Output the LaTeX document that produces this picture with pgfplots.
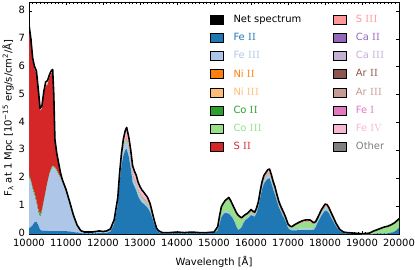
\documentclass[border=0pt]{standalone}
\usepackage{fontspec}
\setsansfont{DejaVu Sans}
\usepackage{pgfplots}
\usepackage{pgfplotstable}
\pgfplotsset{compat=1.18}
\definecolor{cFeII}{HTML}{1F77B4}
\definecolor{cFeIII}{HTML}{AEC7E8}
\definecolor{cNiII}{HTML}{FF7F0E}
\definecolor{cNiIII}{HTML}{FFBB78}
\definecolor{cCoII}{HTML}{2CA02C}
\definecolor{cCoIII}{HTML}{98DF8A}
\definecolor{cSII}{HTML}{D62728}
\definecolor{cSIII}{HTML}{FF9896}
\definecolor{cCaII}{HTML}{9467BD}
\definecolor{cCaIII}{HTML}{C5B0D5}
\definecolor{cArII}{HTML}{8C564B}
\definecolor{cArIII}{HTML}{C49C94}
\definecolor{cFeI}{HTML}{E377C2}
\definecolor{cFeIV}{HTML}{F7B6D2}
\definecolor{cOther}{HTML}{7F7F7F}
\pgfplotsset{patch/.style={legend image code/.code={\fill[##1] (0bp,-4.5bp) rectangle (13bp,4.5bp); \path (23bp,0bp);}}}
\newcommand{\fs}{\sffamily\fontsize{10}{12}\selectfont}
\newcommand{\rn}[1]{{\rmfamily\fontsize{10.5}{12}\selectfont #1}}
\pgfplotstableread{
x FeII FeIII CoII CoIII SII SIII FeIV Net
10000 .20 1.90 .05 .02 5.23 0 0 7.5
10050 .25 1.60 .06 .02 4.97 0 0 7.0
10100 .32 1.25 .07 .02 4.54 0 0 6.3
10150 .42 .95 .08 .02 4.43 0 0 6.0
10200 .44 .65 .09 .02 4.55 0 0 5.85
10250 .32 .45 .09 .02 4.22 0 0 5.2
10300 .15 .45 .08 .02 3.72 0 0 4.5
10350 .12 .65 .07 .02 3.64 0 0 4.6
10400 .12 1.00 .05 .02 3.81 0 0 5.1
10450 .11 1.35 .04 .02 3.78 .05 0 5.45
10500 .11 1.70 .03 .02 3.49 .05 0 5.5
10550 .10 2.00 .03 .02 3.45 .02 0 5.7
10600 .10 2.20 .03 .02 3.40 .02 0 5.85
10640 .10 2.30 .03 .02 3.35 .02 0 5.9
10670 .10 2.28 .03 .02 2.47 .02 0 5.0
10700 .10 2.25 .03 .02 .95 .02 0 3.4
10750 .10 2.15 .03 .02 .55 .02 0 2.9
10800 .10 2.00 .03 .02 .35 .02 0 2.55
10850 .10 1.90 .03 .02 .10 .02 0 2.2
10900 .10 1.75 .02 .02 0 .03 0 1.95
11000 .10 1.42 .02 .02 0 .03 0 1.6
11100 .09 .98 .02 .02 0 .03 0 1.15
11200 .07 .53 .01 .01 0 .03 0 .68
11300 .05 .22 .01 .01 0 .02 0 .32
11400 .03 .07 0 0 0 .01 0 .12
11500 .02 .03 0 0 0 .01 0 .07
11700 .02 .03 0 0 0 .01 0 .07
11900 .03 .04 0 0 0 .02 0 .11
12000 .03 .03 0 0 0 .02 0 .09
12100 .04 .03 0 0 0 .02 0 .11
12200 .09 .03 0 .01 0 .03 0 .18
12300 .35 .05 0 .02 0 .04 .02 .5
12400 1.05 .10 0 .03 0 .04 .05 1.3
12450 1.85 .15 0 .03 0 .04 .07 2.2
12500 2.45 .20 0 .04 0 .05 .10 2.9
12550 2.80 .25 0 .05 0 .05 .15 3.4
12600 3.00 .28 0 .06 0 .08 .18 3.7
12640 3.05 .30 0 .07 0 .10 .20 3.82
12700 2.75 .25 0 .06 0 .08 .20 3.45
12750 2.35 .22 0 .06 0 .07 .20 3.0
12800 1.85 .20 0 .06 0 .07 .18 2.45
12850 1.70 .18 0 .06 0 .06 .18 2.25
12900 1.55 .17 0 .06 0 .06 .18 2.1
12950 1.35 .15 0 .06 0 .05 .16 1.85
13000 1.22 .14 0 .06 0 .05 .15 1.7
13050 1.13 .13 0 .06 0 .05 .14 1.58
13100 1.08 .12 0 .05 0 .05 .12 1.5
13200 .95 .10 0 .05 0 .04 .10 1.32
13270 .80 .08 0 .04 0 .04 .08 1.1
13300 .70 .07 0 .04 0 .03 .07 .95
13360 .45 .05 0 .03 0 .03 .04 .62
13400 .30 .04 0 .02 0 .02 .03 .42
13450 .13 .03 0 .01 0 .01 .02 .2
13500 .06 .02 0 0 0 .01 .01 .12
13600 .02 .01 0 0 0 .01 .01 .05
13800 .02 .01 0 0 0 .01 0 .05
14000 .03 .02 0 0 0 .01 0 .07
14200 .02 .01 0 0 0 .01 0 .05
14400 .03 .02 0 0 0 .01 0 .07
14600 .02 .01 0 0 0 .01 0 .05
14800 .02 .01 0 0 0 .01 0 .05
15000 .03 .01 0 .01 0 .01 0 .07
15100 .12 .02 0 .08 0 .02 0 .26
15150 .35 .04 0 .20 0 .03 .02 .65
15200 .60 .05 0 .28 0 .03 .02 .98
15250 .70 .06 0 .30 0 .03 .02 1.1
15300 .76 .06 0 .35 0 .03 .03 1.2
15400 .73 .06 0 .43 0 .04 .03 1.31
15450 .66 .06 0 .40 0 .04 .03 1.2
15500 .58 .05 0 .35 0 .03 .03 1.06
15550 .45 .05 0 .35 0 .03 .02 .92
15600 .28 .04 0 .38 0 .02 .02 .78
15650 .14 .03 0 .45 0 .02 .02 .68
15700 .18 .03 0 .35 0 .02 .02 .62
15750 .25 .04 0 .25 0 .02 .02 .58
15800 .40 .05 0 .15 0 .02 .02 .65
15850 .50 .05 0 .10 0 .03 .02 .7
15900 .55 .05 0 .08 0 .03 .02 .74
15950 .60 .05 0 .07 0 .03 .03 .8
16000 .68 .06 0 .06 0 .03 .04 .88
16050 .65 .05 0 .05 0 .03 .03 .82
16100 .62 .05 0 .04 0 .03 .03 .78
16150 .75 .06 0 .04 0 .03 .03 .93
16200 .97 .07 0 .04 0 .04 .04 1.16
16250 1.30 .08 0 .04 0 .05 .05 1.55
16300 1.60 .10 0 .04 0 .05 .06 1.88
16350 1.80 .10 0 .04 0 .06 .07 2.1
16400 1.90 .11 0 .04 0 .06 .07 2.2
16450 1.98 .12 0 .04 0 .06 .07 2.3
16500 2.00 .12 0 .04 0 .06 .07 2.33
16550 1.82 .11 0 .04 0 .06 .07 2.13
16600 1.60 .10 0 .04 0 .05 .06 1.88
16650 1.40 .09 0 .04 0 .05 .06 1.68
16700 1.18 .08 0 .04 0 .04 .05 1.42
16750 .97 .07 0 .03 0 .04 .05 1.18
16800 .82 .06 0 .03 0 .04 .04 1.01
16850 .67 .05 0 .03 0 .04 .04 .86
16900 .55 .05 0 .03 0 .03 .03 .72
16950 .40 .04 0 .03 0 .03 .03 .55
17000 .22 .04 0 .04 0 .02 .02 .36
17050 .15 .04 0 .05 0 .02 .02 .29
17100 .13 .04 0 .06 0 .02 .02 .26
17200 .13 .05 0 .12 0 .02 .02 .35
17300 .14 .05 0 .17 0 .02 .02 .42
17400 .14 .05 0 .22 0 .03 .03 .48
17500 .14 .05 0 .25 0 .03 .03 .51
17600 .14 .05 0 .23 0 .03 .03 .5
17700 .15 .05 0 .14 0 .03 .02 .4
17750 .25 .05 0 .08 0 .03 .02 .45
17800 .40 .06 0 .05 0 .03 .03 .58
17900 .65 .07 0 .04 0 .04 .04 .86
18000 .84 .08 0 .04 0 .04 .05 1.07
18050 .83 .08 0 .04 0 .04 .05 1.06
18100 .76 .07 0 .04 0 .04 .04 .96
18200 .50 .06 0 .03 0 .03 .03 .67
18300 .27 .04 0 .02 0 .02 .02 .38
18400 .10 .02 0 .01 0 .01 .01 .16
18500 .03 .01 0 .01 0 .01 .01 .07
18600 .02 .01 0 .01 0 .01 0 .05
18800 .01 .01 0 .01 0 0 0 .03
19000 0 0 0 .01 0 0 0 .01
19200 0 0 0 .03 0 0 0 .03
19300 0 0 0 .08 0 0 0 .1
19400 .01 .01 0 .12 0 0 0 .15
19500 .01 .01 0 .17 0 .01 0 .2
19600 .01 .01 0 .22 0 .01 0 .25
19700 .02 .01 0 .25 0 .01 0 .28
19800 .04 .01 0 .28 0 .01 0 .34
19900 .10 .01 0 .30 0 .01 0 .42
20000 .22 .02 0 .30 0 .01 0 .55
}\data
\begin{document}
\begin{tikzpicture}
\useasboundingbox (-29bp,-36bp) rectangle (386bp,234bp);
\begin{axis}[
  at={(0,0)}, anchor=south west, scale only axis,
  width=370bp, height=232bp,
  xmin=10000, xmax=20000, ymin=0, ymax=8.32,
  stack plots=y,
  xtick={10000,11000,...,20000}, minor x tick num=9,
  ytick={0,1,...,8},
  scaled x ticks=false,
  xticklabel style={/pgf/number format/set thousands separator={}, yshift=-2bp},
  yticklabel style={xshift=-0.5bp, yshift=1bp},
  /pgf/number format/assume math mode=true,
  tick label style={font=\fs},
  label style={font=\fs},
  tick align=inside, major tick length=3.5bp, minor tick length=2bp,
  tick style={black, line width=0.6bp},
  axis line style={line width=0.8bp},
  xlabel={Wavelength [Å]},
  ylabel={F\textsubscript{λ} at 1 Mpc [10\textsuperscript{−15} erg/s/cm\textsuperscript{2}/Å]},
  xlabel style={at={(axis description cs:0.5,-0.1207)}, anchor=center},
  ylabel style={at={(axis description cs:-0.0568,0.5)}, anchor=center},
  legend columns=2, legend cell align=left,
  legend style={at={(axis description cs:0.489,0.946)}, anchor=north west,
    draw=none, fill=none, inner sep=0pt, row sep=8.8bp, column sep=0pt,
    font=\fs, nodes={inner sep=0pt}},
]
\addplot[fill=cFeII, draw=none, forget plot] table[x=x, y=FeII]{\data} \closedcycle;
\addplot[fill=cFeIII, draw=none, forget plot] table[x=x, y=FeIII]{\data} \closedcycle;
\addplot[fill=cCoII, draw=none, forget plot] table[x=x, y=CoII]{\data} \closedcycle;
\addplot[fill=cCoIII, draw=none, forget plot] table[x=x, y=CoIII]{\data} \closedcycle;
\addplot[fill=cSII, draw=none, forget plot] table[x=x, y=SII]{\data} \closedcycle;
\addplot[fill=cSIII, draw=none, forget plot] table[x=x, y=SIII]{\data} \closedcycle;
\addplot[fill=cFeIV, draw=none, forget plot] table[x=x, y=FeIV]{\data} \closedcycle;
\addlegendimage{patch, fill=black}
\addlegendentry{\makebox[99bp][l]{Net spectrum}}
\addlegendimage{patch, fill=cSIII}
\addlegendentry{\color{cSIII}S \rn{III}}
\addlegendimage{patch, fill=cFeII}
\addlegendentry{\makebox[99bp][l]{\color{cFeII}Fe \rn{II}}}
\addlegendimage{patch, fill=cCaII}
\addlegendentry{\color{cCaII}Ca \rn{II}}
\addlegendimage{patch, fill=cFeIII}
\addlegendentry{\makebox[99bp][l]{\color{cFeIII}Fe \rn{III}}}
\addlegendimage{patch, fill=cCaIII}
\addlegendentry{\color{cCaIII}Ca \rn{III}}
\addlegendimage{patch, fill=cNiII}
\addlegendentry{\makebox[99bp][l]{\color{cNiII}Ni \rn{II}}}
\addlegendimage{patch, fill=cArII}
\addlegendentry{\color{cArII}Ar \rn{II}}
\addlegendimage{patch, fill=cNiIII}
\addlegendentry{\makebox[99bp][l]{\color{cNiIII}Ni \rn{III}}}
\addlegendimage{patch, fill=cArIII}
\addlegendentry{\color{cArIII}Ar \rn{III}}
\addlegendimage{patch, fill=cCoII}
\addlegendentry{\makebox[99bp][l]{\color{cCoII}Co \rn{II}}}
\addlegendimage{patch, fill=cFeI}
\addlegendentry{\color{cFeI}Fe \rn{I}}
\addlegendimage{patch, fill=cCoIII}
\addlegendentry{\makebox[99bp][l]{\color{cCoIII}Co \rn{III}}}
\addlegendimage{patch, fill=cFeIV}
\addlegendentry{\color{cFeIV}Fe \rn{IV}}
\addlegendimage{patch, fill=cSII}
\addlegendentry{\makebox[99bp][l]{\color{cSII}S \rn{II}}}
\addlegendimage{patch, fill=cOther}
\addlegendentry{\color{cOther}Other}
\end{axis}
\begin{axis}[
  at={(0,0)}, anchor=south west, scale only axis,
  width=370bp, height=232bp,
  xmin=10000, xmax=20000, ymin=0, ymax=8.32, hide axis]
\addplot[black, line width=1.6bp, line join=round] table[x=x, y=Net]{\data};
\end{axis}
\end{tikzpicture}
\end{document}
